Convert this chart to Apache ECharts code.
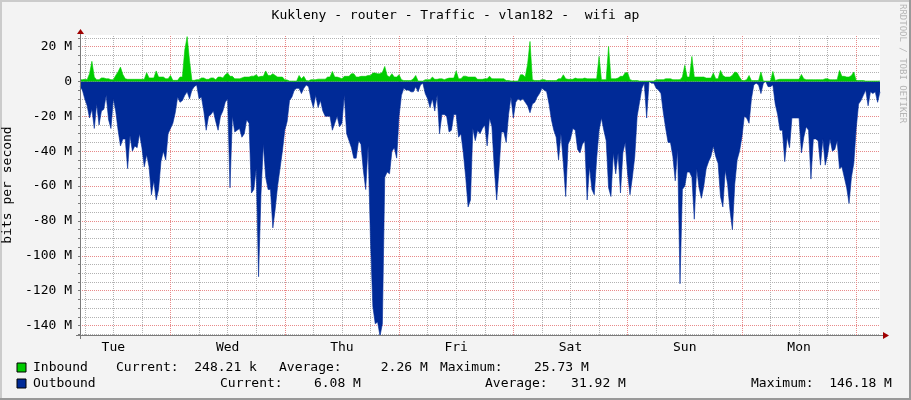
<!DOCTYPE html>
<html><head><meta charset="utf-8">
<script src="https://cdn.jsdelivr.net/npm/echarts@6/dist/echarts.min.js"></script>
<style>html,body{margin:0;padding:0;background:#F3F3F3}#c{width:911px;height:400px}</style>
</head><body><div id="c"></div>
<script>
const titleText = 'Kukleny - router - Traffic - vlan182 -  wifi ap';
const yAxisTitle = 'bits per second';
const creditText = 'RRDTOOL / TOBI OETIKER';
// time in hours since Tue 00:00; one sample every 30 minutes
const startHour = 5;
const endHour = 173;
const stepHours = 0.5;
const dayNames = ['Tue','Wed','Thu','Fri','Sat','Sun','Mon'];
const noonHours = [12,36,60,84,108,132,156];
const midnightHours = [24,48,72,96,120,144,168];
const sixHourTicks = [6,12,18,30,36,42,54,60,66,78,84,90,102,108,114,126,132,138,150,156,162];
const yMajorTicks = [-140,-120,-100,-80,-60,-40,-20,0,20];
const yMinorTicks = [-145,-135,-130,-125,-115,-110,-105,-95,-90,-85,-75,-70,-65,-55,-50,-45,-35,-30,-25,-15,-10,-5,5,10,15,25];
const yMin = -145.4, yMax = 26.6;

// Inbound, Mbit/s
const inbound = [
1.0,1.0,1.2,1.0,4.4,11.5,2.5,1.0,1.0,2.0,
2.0,1.5,1.5,1.0,1.0,3.4,5.5,8.2,4.0,1.5,
1.2,1.2,1.2,1.2,1.2,1.2,1.2,1.2,5.0,2.0,
2.0,2.0,6.0,2.5,2.5,2.5,1.5,1.5,3.4,0.6,
0.6,0.6,2.5,2.5,18,25.7,12,0.6,0.6,1.0,
1.0,2.0,2.0,1.2,1.2,2.0,2.0,1.0,2.5,2.5,
2.0,3.8,4.8,2.9,2.9,1.5,1.5,1.5,
2.0,2.5,2.5,2.5,3.0,3.0,3.8,2.5,2.9,2.9,
6.0,3.4,3.4,4.4,3.4,2.5,2.5,2.5,1.0,0.8,
0.2,0.2,0.2,0.2,3.4,1.5,2.9,0.5,0.3,1.0,
1.0,1.0,1.3,1.3,1.3,1.3,2.5,2.5,5.7,2.5,
2.5,2.1,1.5,2.9,2.9,2.9,4.4,4.4,2.5,2.5,
2.9,2.9,2.9,3.4,3.4,4.8,4.8,4.4,4.4,5.2,
8.6,3.4,2.5,4.4,2.5,2.5,3.8,1.0,
0.5,0.5,0.5,0.5,1.5,3.4,0.2,0.2,0.2,1.0,
1.0,1.0,2.5,1.2,1.2,1.5,1.5,1.0,1.5,1.9,
1.9,1.9,6.0,1.5,1.5,3.0,3.0,2.5,2.5,2.5,
2.5,1.2,1.2,1.2,1.5,1.5,3.0,1.5,1.5,1.5,
1.5,1.5,1.5,0.5,0.5,0.2,0.2,0.2,0.2,3.8,
3.8,2.5,10,22.9,1.0,0.5,0.5,0.5,1.0,1.0,
0.5,0.5,0.5,0.5,0.5,1.5,1.5,
3.8,1.5,1.2,1.2,1.2,1.9,1.5,1.5,1.5,1.9,
1.5,1.5,1.5,1.5,1.5,14.3,1.0,1.0,1.0,20.0,
1.5,1.5,1.5,1.9,2.9,2.9,5.0,5.0,1.0,0.5,
0.5,0.5,0.2,0.2,0.2,0.2,0.2,0.2,0.2,1.0,
1.0,1.0,1.0,1.5,1.5,1.5,1.0,1.0,1.0,1.0,
2.5,9.2,2.5,2.5,14.3,2.5,2.5,2.5,2.5,2.5,
1.9,1.9,1.9,4.8,1.5,1.5,6.3,
3.4,2.5,2.5,2.5,3.5,5.4,5.0,2.5,0.5,0.5,
1.0,3.4,0.5,0.5,0.5,0.5,5.4,0.2,0.2,0.2,
0.2,5.7,0.5,1.0,1.2,1.2,1.2,1.2,1.2,1.2,
1.2,1.2,1.2,4.0,1.5,1.0,1.0,1.0,1.0,1.0,
1.0,1.0,1.0,1.5,1.5,1.0,1.0,1.0,1.0,6.3,
2.9,2.9,2.5,2.5,3.4,5.4,0.5,0.5,0.5,0.5,
0.2,0.2,0.2,0.2,0.2,0.2,0.25
];
// Outbound, Mbit/s (drawn below zero)
const outbound = [
3,5,10,14,21,16,27,13,25,17,
16,8,22,27,10,17,28,37,33,33,
50,31,40,37,38,30,38,49,42,49,
65,57,68,62,46,40,45,30,27,24,
18,9,12,11,8,6,10,5,3,2,
10,9,17,28,20,19,17,23,28,20,
17,12,10,61,20,29,28,27,
32,30,22,24,64,62,50,112,65,36,
55,62,62,84,73,60,50,40,28,23,
11,9,5,4,4,7,4,2,3,10,
15,8,15,11,17,20,20,20,28,24,
20,26,24,8,30,34,38,44,44,34,
36,51,62,37,91,129,139,138,146,139,
55,52,53,40,38,44,20,8,
4,5,5,6,6,3,6,2,1,7,
10,15,10,17,8,30,19,19,20,29,
28,19,19,32,30,41,55,72,68,27,
34,28,30,27,25,37,21,26,50,68,
50,29,29,35,19,9,21,12,10,11,
10,12,14,18,13,12,9,7,4,5,
6,13,22,28,32,45,30,
47,66,36,33,27,28,39,41,36,34,
68,49,62,65,44,28,21,28,34,61,
66,41,53,41,64,41,35,53,65,55,
43,20,12,4,1,21,0,1,1,4,
5,7,18,27,35,35,43,57,39,116,
62,60,52,52,55,79,50,61,67,60,
50,46,43,37,43,47,66,
72,51,59,74,85,59,45,40,32,20,
21,24,10,2,1,2,7,1,0,3,
3,2,13,19,28,28,46,32,38,21,
21,21,21,41,32,26,28,56,33,33,
34,48,33,48,42,33,40,39,34,50,
49,55,61,70,55,47,27,13,11,8,
5,14,6,7,6,12,6
];
const legendNames = ['Inbound','Outbound'];
const inboundStats = ['248.21 k','2.26 M','25.73 M'];
const outboundStats = ['6.08 M','31.92 M','146.18 M'];
const colors = {inbound:'#00CC00', outbound:'#002A97'};

const FONT = 'DejaVu Sans Mono';
const gridL = 80, gridT = 35, gridW = 800, gridH = 300;
const minorGrid = {color:'#B2B2B2', width:1, type:[1,1]};
const majorGrid = {color:'#E88A8A', width:1, type:[1,1]};

const inData = inbound.map((v,i)=>[startHour + i*stepHours, v]);
const outData = outbound.map((v,i)=>[startHour + i*stepHours, -v]);

function pad(s,n){ while(s.length<n) s=' '+s; return s; }
const textStyle = {fontFamily:FONT, fontSize:13, fill:'#000'};
const row1 = 368, row2 = 384;
const axisGray = '#7A7A7A', arrowRed = '#A00000';

const gridMarks = []
  .concat(sixHourTicks.map(h=>({xAxis:h, lineStyle:minorGrid})))
  .concat(yMinorTicks.map(v=>({yAxis:v, lineStyle:minorGrid})))
  .concat(midnightHours.map(h=>({xAxis:h, lineStyle:majorGrid})))
  .concat(yMajorTicks.map(v=>({yAxis:v, lineStyle:majorGrid})));

const graphic = [
  // frame
  {type:'rect', shape:{x:0,y:0,width:911,height:2}, style:{fill:'#CBCBCB'}, silent:true},
  {type:'rect', shape:{x:0,y:0,width:2,height:400}, style:{fill:'#CBCBCB'}, silent:true},
  {type:'rect', shape:{x:909,y:0,width:2,height:400}, style:{fill:'#999999'}, silent:true},
  {type:'rect', shape:{x:0,y:398,width:911,height:2}, style:{fill:'#999999'}, silent:true},
  // axes
  {type:'line', shape:{x1:gridL+0.5,y1:gridT+gridH+4,x2:gridL+0.5,y2:gridT-2}, style:{stroke:axisGray,lineWidth:1}, z:50},
  {type:'line', shape:{x1:gridL-4,y1:gridT+gridH+0.5,x2:gridL+gridW+4,y2:gridT+gridH+0.5}, style:{stroke:axisGray,lineWidth:1}, z:50},
  {type:'polygon', shape:{points:[[gridL-3,gridT-1],[gridL+4,gridT-1],[gridL+0.5,gridT-6]]}, style:{fill:arrowRed}, z:51},
  {type:'polygon', shape:{points:[[gridL+gridW+3,gridT+gridH-3],[gridL+gridW+3,gridT+gridH+4],[gridL+gridW+9,gridT+gridH+0.5]]}, style:{fill:arrowRed}, z:51},
  // credit
  {type:'text', x:902, y:4, rotation:-Math.PI/2, style:{text:creditText, fontFamily:FONT, fontSize:9, fill:'#B5B5B5', align:'left', verticalAlign:'middle'}},
  // legend boxes
  {type:'rect', shape:{x:17,y:row1-5,width:9,height:9}, style:{fill:colors.inbound, stroke:'#000', lineWidth:1}},
  {type:'rect', shape:{x:17,y:row2-5,width:9,height:9}, style:{fill:colors.outbound, stroke:'#000', lineWidth:1}},
  // legend row 1
  {type:'text', x:33, y:row1, style:Object.assign({text:legendNames[0], verticalAlign:'middle'}, textStyle)},
  {type:'text', x:116, y:row1, style:Object.assign({text:'Current:'+pad(inboundStats[0],10), verticalAlign:'middle'}, textStyle)},
  {type:'text', x:279, y:row1, style:Object.assign({text:'Average:'+pad(inboundStats[1],11), verticalAlign:'middle'}, textStyle)},
  {type:'text', x:440, y:row1, style:Object.assign({text:'Maximum:'+pad(inboundStats[2],11), verticalAlign:'middle'}, textStyle)},
  // legend row 2
  {type:'text', x:33, y:row2, style:Object.assign({text:legendNames[1], verticalAlign:'middle'}, textStyle)},
  {type:'text', x:220, y:row2, style:Object.assign({text:'Current:'+pad(outboundStats[0],10), verticalAlign:'middle'}, textStyle)},
  {type:'text', x:485, y:row2, style:Object.assign({text:'Average:'+pad(outboundStats[1],10), verticalAlign:'middle'}, textStyle)},
  {type:'text', x:751, y:row2, style:Object.assign({text:'Maximum:'+pad(outboundStats[2],10), verticalAlign:'middle'}, textStyle)}
];

const chart = echarts.init(document.getElementById('c'), null, {renderer:'canvas'});
chart.setOption({
  animation:false,
  backgroundColor:'#F3F3F3',
  title:{text:titleText, left:'center', top:4, textStyle:{fontFamily:FONT, fontSize:13, fontWeight:'normal', color:'#000'}},
  grid:{left:gridL, top:gridT, width:gridW, height:gridH, show:true, backgroundColor:'#FFFFFF', borderWidth:0,
        containLabel:false, outerBoundsMode:'none'},
  xAxis:{type:'value', min:startHour, max:endHour, position:'bottom',
     axisLine:{show:false},
     axisTick:{show:true, customValues:sixHourTicks.concat(midnightHours), length:2, lineStyle:{color:axisGray}},
     axisLabel:{customValues:noonHours, formatter:v=>dayNames[Math.round((v-12)/24)], margin:6, fontFamily:FONT, fontSize:13, color:'#000'},
     splitLine:{show:false}},
  yAxis:{type:'value', min:yMin, max:yMax, position:'left',
     name:yAxisTitle, nameLocation:'middle', nameGap:60, nameRotate:90,
     nameTextStyle:{fontFamily:FONT, fontSize:13, color:'#000'},
     axisLine:{show:false},
     axisTick:{show:true, customValues:yMajorTicks.concat(yMinorTicks), length:2, lineStyle:{color:axisGray}},
     axisLabel:{customValues:yMajorTicks, formatter:v=>v===0?'0':(v+' M'), margin:8, fontFamily:FONT, fontSize:13, color:'#000'},
     splitLine:{show:false}},
  series:[
    {name:'grid', type:'line', data:[], z:1, silent:true,
     markLine:{silent:true, z:1, zlevel:0, symbol:['none','none'], label:{show:false}, animation:false, data:gridMarks}},
    {name:legendNames[1], type:'line', data:outData, showSymbol:false, symbol:'none',
     lineStyle:{width:0.6, color:colors.outbound}, areaStyle:{color:colors.outbound, opacity:1}, z:3},
    {name:legendNames[0], type:'line', data:inData, showSymbol:false, symbol:'none',
     lineStyle:{width:0.6, color:colors.inbound}, areaStyle:{color:colors.inbound, opacity:1}, z:4}
  ],
  graphic:graphic
});
</script></body></html>
